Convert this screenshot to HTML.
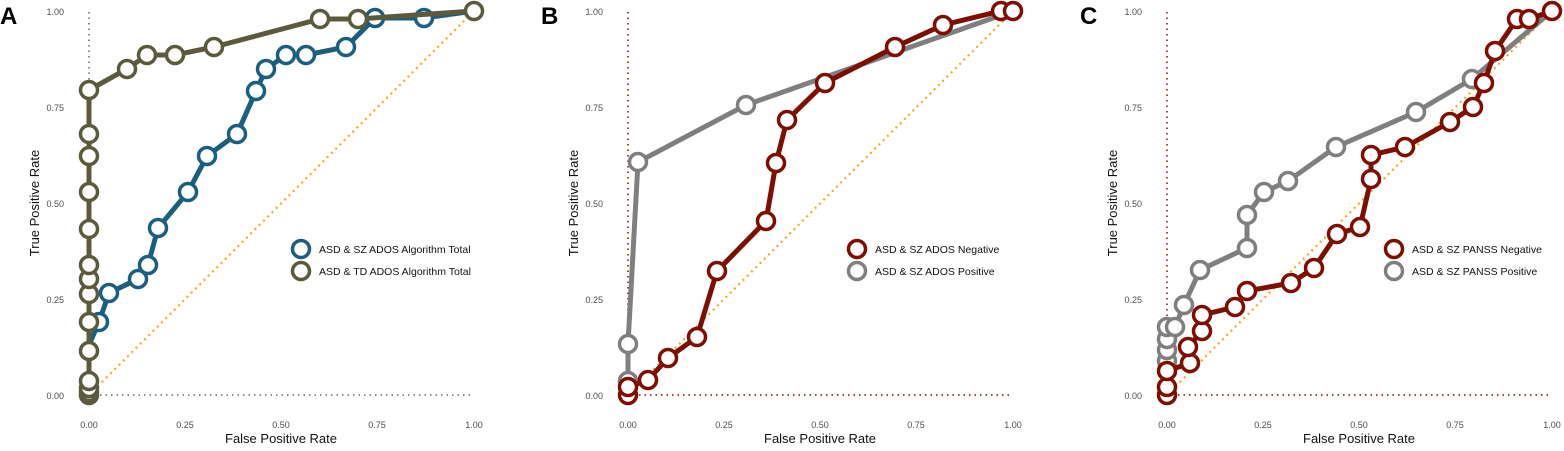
<!DOCTYPE html><html><head><style>body{margin:0;background:#fff}svg text{font-family:"Liberation Sans",sans-serif}svg g circle{r:8.5px}g.s{stroke-width:3.5px}g.s polyline{stroke-width:5px}</style></head><body>
<svg width="1564" height="446" xmlns="http://www.w3.org/2000/svg">
<defs><style>.t{font-size:9px;fill:#4d4d4d}.ti{font-size:13px;fill:#111}.lg{font-size:10.5px;fill:#111}.lb{font-size:24px;font-weight:bold;fill:#000}</style></defs>
<g id="A">
<text class="lb" x="0" y="24">A</text>
<g class="t" text-anchor="end"><text x="64" y="15">1.00</text><text x="64" y="111">0.75</text><text x="64" y="207">0.50</text><text x="64" y="303">0.25</text><text x="64" y="399">0.00</text></g>
<g class="t" text-anchor="middle"><text x="89" y="428">0.00</text><text x="185" y="428">0.25</text><text x="281" y="428">0.50</text><text x="377" y="428">0.75</text><text x="474" y="428">1.00</text></g>
<text class="ti" x="281" y="443" text-anchor="middle">False Positive Rate</text>
<text class="ti" transform="translate(39,203) rotate(-90)" text-anchor="middle">True Positive Rate</text>
<line x1="89" y1="12" x2="89" y2="90" stroke="#666" stroke-width="1.5" stroke-dasharray="1.5 4"/>
<line x1="89" y1="395" x2="474" y2="395" stroke="#666" stroke-width="1.5" stroke-dasharray="1.5 4"/>
<line x1="89" y1="395" x2="474" y2="11" stroke="#f5a623" stroke-width="2.2" stroke-dasharray="2 4"/>
<g class="s" fill="#fff" stroke="#1a5e80" stroke-width="3">
<polyline fill="none" stroke-width="4" points="89,395 89,345 99,322 109,293 138,279 148,265 158,228 188,192 207,156 237,134 256,91 266,69 286,55 306,55 346,47 375,18 424,18 474,11"/>
<circle cx="99" cy="322" r="7.5"/><circle cx="109" cy="293" r="7.5"/><circle cx="138" cy="279" r="7.5"/><circle cx="148" cy="265" r="7.5"/><circle cx="158" cy="228" r="7.5"/><circle cx="188" cy="192" r="7.5"/><circle cx="207" cy="156" r="7.5"/><circle cx="237" cy="134" r="7.5"/><circle cx="256" cy="91" r="7.5"/><circle cx="266" cy="69" r="7.5"/><circle cx="286" cy="55" r="7.5"/><circle cx="306" cy="55" r="7.5"/><circle cx="346" cy="47" r="7.5"/><circle cx="375" cy="18" r="7.5"/><circle cx="424" cy="18" r="7.5"/>
</g>
<g class="s" fill="#fff" stroke="#5b5a3c" stroke-width="3">
<polyline fill="none" stroke-width="4" points="89,395 89,90 127,69 147,55 175,55 214,47 320,19 358,19 474,11"/>
<circle cx="89" cy="395" r="7.5"/><circle cx="89" cy="392" r="7.5"/><circle cx="89" cy="388" r="7.5"/><circle cx="89" cy="381" r="7.5"/><circle cx="89" cy="351" r="7.5"/><circle cx="89" cy="322" r="7.5"/><circle cx="89" cy="294" r="7.5"/><circle cx="89" cy="279" r="7.5"/><circle cx="89" cy="265" r="7.5"/><circle cx="89" cy="229" r="7.5"/><circle cx="89" cy="192" r="7.5"/><circle cx="89" cy="156" r="7.5"/><circle cx="89" cy="134" r="7.5"/><circle cx="89" cy="90" r="7.5"/><circle cx="127" cy="69" r="7.5"/><circle cx="147" cy="55" r="7.5"/><circle cx="175" cy="55" r="7.5"/><circle cx="214" cy="47" r="7.5"/><circle cx="320" cy="19" r="7.5"/><circle cx="358" cy="19" r="7.5"/><circle cx="474" cy="11" r="7.5"/>
</g>
<circle cx="301" cy="249" r="8" fill="#fff" stroke="#1a5e80" stroke-width="3.5"/><circle cx="301" cy="271" r="8" fill="#fff" stroke="#5b5a3c" stroke-width="3.5"/>
<text class="lg" x="319" y="253">ASD &amp; SZ ADOS Algorithm Total</text><text class="lg" x="319" y="275">ASD &amp; TD ADOS Algorithm Total</text>
</g>
<g id="B">
<text class="lb" x="541" y="24">B</text>
<g class="t" text-anchor="end"><text x="603" y="15">1.00</text><text x="603" y="111">0.75</text><text x="603" y="207">0.50</text><text x="603" y="303">0.25</text><text x="603" y="399">0.00</text></g>
<g class="t" text-anchor="middle"><text x="628" y="428">0.00</text><text x="724" y="428">0.25</text><text x="820" y="428">0.50</text><text x="916" y="428">0.75</text><text x="1013" y="428">1.00</text></g>
<text class="ti" x="820" y="443" text-anchor="middle">False Positive Rate</text>
<text class="ti" transform="translate(578,203) rotate(-90)" text-anchor="middle">True Positive Rate</text>
<line x1="628" y1="12" x2="628" y2="380" stroke="#7d0e00" stroke-width="1.5" stroke-dasharray="1.5 4"/>
<line x1="628" y1="395" x2="1013" y2="395" stroke="#7d0e00" stroke-width="1.5" stroke-dasharray="1.5 4"/>
<line x1="628" y1="395" x2="1013" y2="11" stroke="#f5a623" stroke-width="2.2" stroke-dasharray="2 4"/>
<g class="s" fill="#fff" stroke="#7f7f7f" stroke-width="3">
<polyline fill="none" stroke-width="4" points="628,395 628,381 628,344 638,162 746,105 1013,11"/>
<circle cx="628" cy="381" r="7.5"/><circle cx="628" cy="344" r="7.5"/><circle cx="638" cy="162" r="7.5"/><circle cx="746" cy="105" r="7.5"/>
</g>
<g class="s" fill="#fff" stroke="#7d0e00" stroke-width="3">
<polyline fill="none" stroke-width="4" points="628,395 628,387 648,380 668,358 697,337 717,271 766,221 776,163 787,120 825,83 895,47 943,25 1001,11 1013,11"/>
<circle cx="628" cy="395" r="7.5"/><circle cx="628" cy="387" r="7.5"/><circle cx="648" cy="380" r="7.5"/><circle cx="668" cy="358" r="7.5"/><circle cx="697" cy="337" r="7.5"/><circle cx="717" cy="271" r="7.5"/><circle cx="766" cy="221" r="7.5"/><circle cx="776" cy="163" r="7.5"/><circle cx="787" cy="120" r="7.5"/><circle cx="825" cy="83" r="7.5"/><circle cx="895" cy="47" r="7.5"/><circle cx="943" cy="25" r="7.5"/><circle cx="1001" cy="11" r="7.5"/><circle cx="1013" cy="11" r="7.5"/>
</g>
<circle cx="857" cy="249" r="8" fill="#fff" stroke="#7d0e00" stroke-width="3.5"/><circle cx="857" cy="271" r="8" fill="#fff" stroke="#7f7f7f" stroke-width="3.5"/>
<text class="lg" x="875" y="253">ASD &amp; SZ ADOS Negative</text><text class="lg" x="875" y="275">ASD &amp; SZ ADOS Positive</text>
</g>
<g id="C">
<text class="lb" x="1080" y="24">C</text>
<g class="t" text-anchor="end"><text x="1142" y="15">1.00</text><text x="1142" y="111">0.75</text><text x="1142" y="207">0.50</text><text x="1142" y="303">0.25</text><text x="1142" y="399">0.00</text></g>
<g class="t" text-anchor="middle"><text x="1167" y="428">0.00</text><text x="1263" y="428">0.25</text><text x="1359" y="428">0.50</text><text x="1455" y="428">0.75</text><text x="1552" y="428">1.00</text></g>
<text class="ti" x="1359" y="443" text-anchor="middle">False Positive Rate</text>
<text class="ti" transform="translate(1117,203) rotate(-90)" text-anchor="middle">True Positive Rate</text>
<line x1="1167" y1="12" x2="1167" y2="320" stroke="#7d0e00" stroke-width="1.5" stroke-dasharray="1.5 4"/>
<line x1="1167" y1="395" x2="1552" y2="395" stroke="#7d0e00" stroke-width="1.5" stroke-dasharray="1.5 4"/>
<line x1="1167" y1="395" x2="1552" y2="11" stroke="#f5a623" stroke-width="2.2" stroke-dasharray="2 4"/>
<g class="s" fill="#fff" stroke="#7f7f7f" stroke-width="3">
<polyline fill="none" stroke-width="4" points="1167,370 1167,327 1175,327 1184,305 1200,270 1247,248 1247,215 1264,192 1288,181 1336,147 1416,112 1472,79 1552,11"/>
<circle cx="1167" cy="361" r="7.5"/><circle cx="1167" cy="350" r="7.5"/><circle cx="1167" cy="339" r="7.5"/><circle cx="1167" cy="327" r="7.5"/><circle cx="1175" cy="327" r="7.5"/><circle cx="1184" cy="305" r="7.5"/><circle cx="1200" cy="270" r="7.5"/><circle cx="1247" cy="248" r="7.5"/><circle cx="1247" cy="215" r="7.5"/><circle cx="1264" cy="192" r="7.5"/><circle cx="1288" cy="181" r="7.5"/><circle cx="1336" cy="147" r="7.5"/><circle cx="1416" cy="112" r="7.5"/><circle cx="1472" cy="79" r="7.5"/>
</g>
<g class="s" fill="#fff" stroke="#7d0e00" stroke-width="3">
<polyline fill="none" stroke-width="4" points="1167,395 1167,387 1167,371 1190,363 1188,347 1202,331 1202,315 1235,307 1247,291 1291,283 1314,268 1337,234 1360,227 1371,179 1371,155 1405,147 1450,122 1473,107 1484,83 1495,51 1517,19 1529,19 1552,11"/>
<circle cx="1167" cy="395" r="7.5"/><circle cx="1167" cy="387" r="7.5"/><circle cx="1167" cy="371" r="7.5"/><circle cx="1190" cy="363" r="7.5"/><circle cx="1188" cy="347" r="7.5"/><circle cx="1202" cy="331" r="7.5"/><circle cx="1202" cy="315" r="7.5"/><circle cx="1235" cy="307" r="7.5"/><circle cx="1247" cy="291" r="7.5"/><circle cx="1291" cy="283" r="7.5"/><circle cx="1314" cy="268" r="7.5"/><circle cx="1337" cy="234" r="7.5"/><circle cx="1360" cy="227" r="7.5"/><circle cx="1371" cy="179" r="7.5"/><circle cx="1371" cy="155" r="7.5"/><circle cx="1405" cy="147" r="7.5"/><circle cx="1450" cy="122" r="7.5"/><circle cx="1473" cy="107" r="7.5"/><circle cx="1484" cy="83" r="7.5"/><circle cx="1495" cy="51" r="7.5"/><circle cx="1517" cy="19" r="7.5"/><circle cx="1529" cy="19" r="7.5"/><circle cx="1552" cy="11" r="7.5"/>
</g>
<circle cx="1394" cy="249" r="8" fill="#fff" stroke="#7d0e00" stroke-width="3.5"/><circle cx="1394" cy="271" r="8" fill="#fff" stroke="#7f7f7f" stroke-width="3.5"/>
<text class="lg" x="1412" y="253">ASD &amp; SZ PANSS Negative</text><text class="lg" x="1412" y="275">ASD &amp; SZ PANSS Positive</text>
</g>
</svg>
</body></html>
